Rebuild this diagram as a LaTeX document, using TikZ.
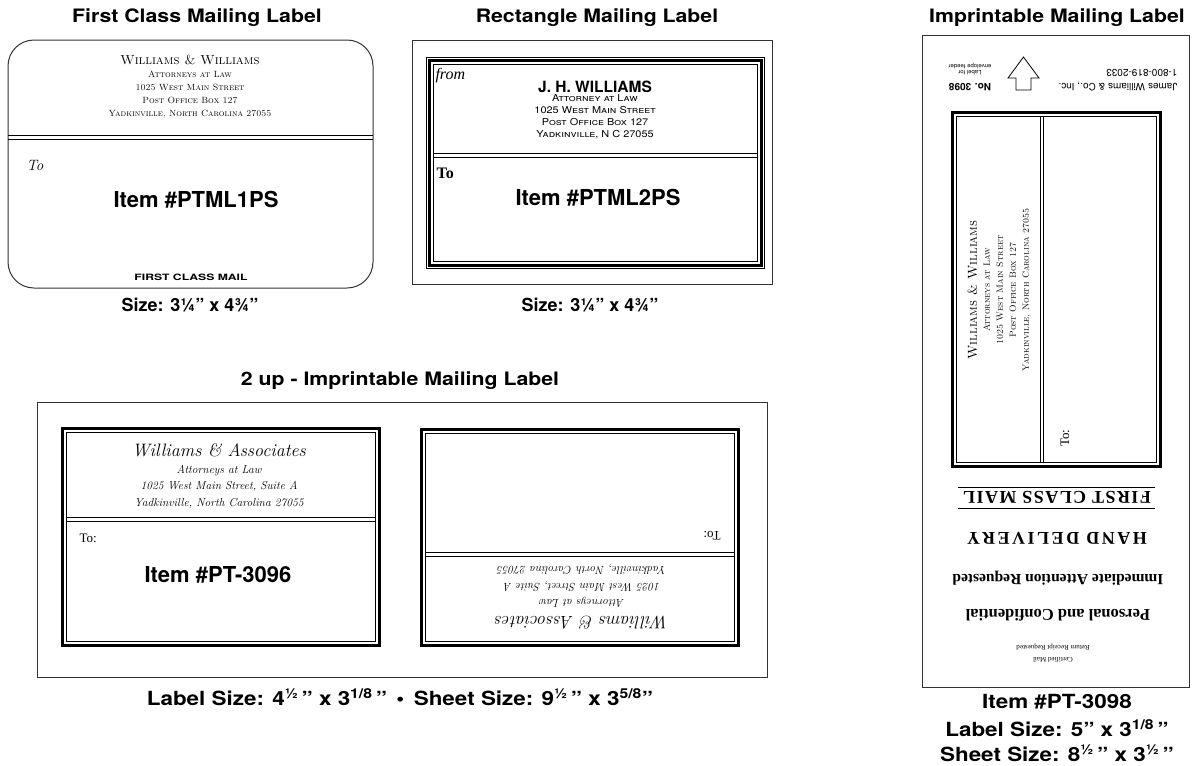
\documentclass[tikz,border=0pt]{standalone}
\usepackage{fontspec}
\setsansfont{TeX Gyre Heros}
\newfontfamily\widesans[FakeStretch=1.15]{TeX Gyre Heros}
\newfontfamily\extrawide[FakeStretch=1.4]{TeX Gyre Heros}
\newfontfamily\timesfont{Liberation Serif}
\usetikzlibrary{calc}
\def\labelframe(#1)(#2){\draw[heavyline] (#1) rectangle (#2); \draw[thinline] ($(#1)+(4,4)$) rectangle ($(#2)+(-4,-4)$);}
\def\wwaddress{{\fontsize{13}{14}\selectfont Williams \& Williams}\\Attorneys at Law\\1025 West Main Street\\Post Office Box 127\\Yadkinville, North Carolina 27055}
\def\waaddress{{\fontsize{18}{18}\selectfont Williams \& Associates}\\Attorneys at Law\\1025 West Main Street, Suite A\\Yadkinville, North Carolina 27055}

\begin{document}
\begin{tikzpicture}[x=1pt, y=-1pt,
	title/.style={font=\widesans\bfseries\fontsize{18.5}{21}\selectfont},
	item/.style={font=\sffamily\bfseries\fontsize{22}{25}\selectfont},
	caption/.style={font=\sffamily\bfseries\fontsize{18}{21}\selectfont},
	widecaption/.style={font=\widesans\bfseries\fontsize{19.5}{22}\selectfont},
	sheetline/.style={line width=1pt, black!80},
	thinline/.style={line width=0.8pt},
	heavyline/.style={line width=3pt},
	serifaddr/.style={align=center, font=\scshape\fontsize{9}{13}\selectfont},
	scriptaddr/.style={align=center, font=\itshape\fontsize{11.5}{16.5}\selectfont},
	upside/.style={rotate=180}]
		\useasboundingbox (0,0) rectangle (1192,766);
		%%%%% FIRST CLASS %%%%%
		\node[title] (fctitle) at (197,18) {First Class Mailing Label};
		\draw[sheetline, rounded corners=26pt] (8,40) rectangle (373,288);
		\draw[thinline] (8,135) -- (373,135);
		\draw[thinline] (8,139.5) -- (373,139.5);
		\node[serifaddr] (fcaddr) at (190,87) {\wwaddress};
		\node[anchor=west, font=\itshape\fontsize{15}{17}\selectfont] (fcto) at (23,165) {To};
		\node[item] (fcitem) at (196,200) {Item \#PTML1PS};
		\node[font=\extrawide\bfseries\fontsize{8.7}{10}\selectfont] (fcmail) at (191,277) {FIRST CLASS MAIL};
		\node[caption] (fcsize) at (190,305) {Size: 3¼” x 4¾”};
		
		%%%%% RECTANGLE %%%%%
		\node[title] (rltitle) at (597,18) {Rectangle Mailing Label};
		\draw[sheetline] (412,40) rectangle (772,284);
		\draw[thinline] (426,57) rectangle (764.5,268.5);
		\labelframe(429.5,60.5)(761,265)
		\draw[thinline] (433.5,153.5) -- (757,153.5);
		\draw[thinline] (433.5,157) -- (757,157);
		\node[anchor=west, font=\timesfont\itshape\fontsize{16}{18}\selectfont] (rlfrom) at (432,76) {from};
		\node[font=\sffamily\bfseries\fontsize{15.5}{17}\selectfont] (rlname) at (595,87) {J. H. WILLIAMS};
		\node[align=center, font=\widesans\scshape\fontsize{9.5}{12}\selectfont] (rladdr) at (595,117) {Attorney at Law\\1025 West Main Street\\Post Office Box 127\\Yadkinville, N C 27055};
		\node[anchor=west, font=\timesfont\bfseries\fontsize{16}{18}\selectfont] (rlto) at (433,173) {To};
		\node[item] (rlitem) at (598,198) {Item \#PTML2PS};
		\node[caption] (rlsize) at (590,305) {Size: 3¼” x 4¾”};
		
		%%%%% IMPRINTABLE %%%%%
		\node[title] (imtitle) at (1057,18) {Imprintable Mailing Label};
		\draw[sheetline] (922,35) rectangle (1189,687);
		\draw[thinline] (1016,90) -- (1016,78) -- (1008,78) -- (1023.5,57) -- (1039,78) -- (1031,78) -- (1031,90) -- cycle;
		\node[upside, font=\sffamily\bfseries\fontsize{10}{12}\selectfont] (imno) at (970,87) {No. 3098};
		\node[upside, align=center, font=\sffamily\fontsize{6}{6.5}\selectfont] (imfeed) at (970,69) {Label for\\envelope feeder};
		\node[upside, align=left, font=\sffamily\fontsize{10}{14}\selectfont] (imco) at (1118,80) {James Williams \& Co., Inc.\\1-800-819-2033};
		\labelframe(952.5,112.5)(1160.5,466.5)
		\draw[thinline] (1040,116.5) -- (1040,462.5);
		\draw[thinline] (1043.5,116.5) -- (1043.5,462.5);
		\node[serifaddr, rotate=90] (imaddr) at (999,290) {\wwaddress};
		\node[rotate=90, font=\timesfont\fontsize{13}{15}\selectfont] (imto) at (1065,438) {To:};
		\draw[thinline] (958,487) -- (1155,487);
		\draw[thinline] (958,508) -- (1155,508);
		\node[upside, font=\timesfont\bfseries\fontsize{18}{20}\selectfont\addfontfeature{LetterSpace=8}] (imfirst) at (1057,497) {FIRST CLASS MAIL};
		\node[upside, font=\timesfont\bfseries\fontsize{18}{20}\selectfont\addfontfeature{LetterSpace=14}] (imhand) at (1057,538) {HAND DELIVERY};
		\node[upside, font=\timesfont\bfseries\fontsize{15.5}{17}\selectfont] (imurgent) at (1058,578) {Immediate Attention Requested};
		\node[upside, font=\timesfont\bfseries\fontsize{16.5}{18}\selectfont] (impers) at (1058,615) {Personal and Confidential};
		\node[upside, align=center, font=\timesfont\fontsize{7}{12}\selectfont] (imcert) at (1053,653) {Certified Mail\\Return Receipt Requested};
		\node[widecaption] (imitem) at (1057,702) {Item \#PT-3098};
		\node[widecaption] (imlabel) at (1057,728) {Label Size: 5” x 3\textsuperscript{1/8}\,”};
		\node[widecaption] (imsheet) at (1057,753) {Sheet Size: 8\textsuperscript{½}\,” x 3\textsuperscript{½}\,”};
		
		%%%%% 2 UP %%%%%
		\node[title] (tutitle) at (400,381) {2 up - Imprintable Mailing Label};
		\draw[sheetline] (37,402) rectangle (767,677);
		\labelframe(62.5,428)(379,645.5)
		\draw[thinline] (66.5,517) -- (375,517);
		\draw[thinline] (66.5,521) -- (375,521);
		\node[scriptaddr] (tuaddra) at (219,476) {\waaddress};
		\node[anchor=west, font=\timesfont\fontsize{13}{15}\selectfont] (tutoa) at (76,538) {To:};
		\node[item] (tuitema) at (218,575) {Item \#PT-3096};
		\labelframe(421.5,429.5)(738.5,645)
		\draw[thinline] (425.5,552.5) -- (734.5,552.5);
		\draw[thinline] (425.5,556) -- (734.5,556);
		\node[scriptaddr, upside] (tuaddrb) at (582,597) {\waaddress};
		\node[upside, font=\timesfont\fontsize{13}{15}\selectfont] (tutob) at (712,536) {To:};
		\node[widecaption] (tusize) at (400,697) {Label Size: 4\textsuperscript{½}\,” x 3\textsuperscript{1/8}\,” \,\textbullet\, Sheet Size: 9\textsuperscript{½}\,” x 3\textsuperscript{5/8}”};
		%%%%% END %%%%%
	\end{tikzpicture}
\end{document}
